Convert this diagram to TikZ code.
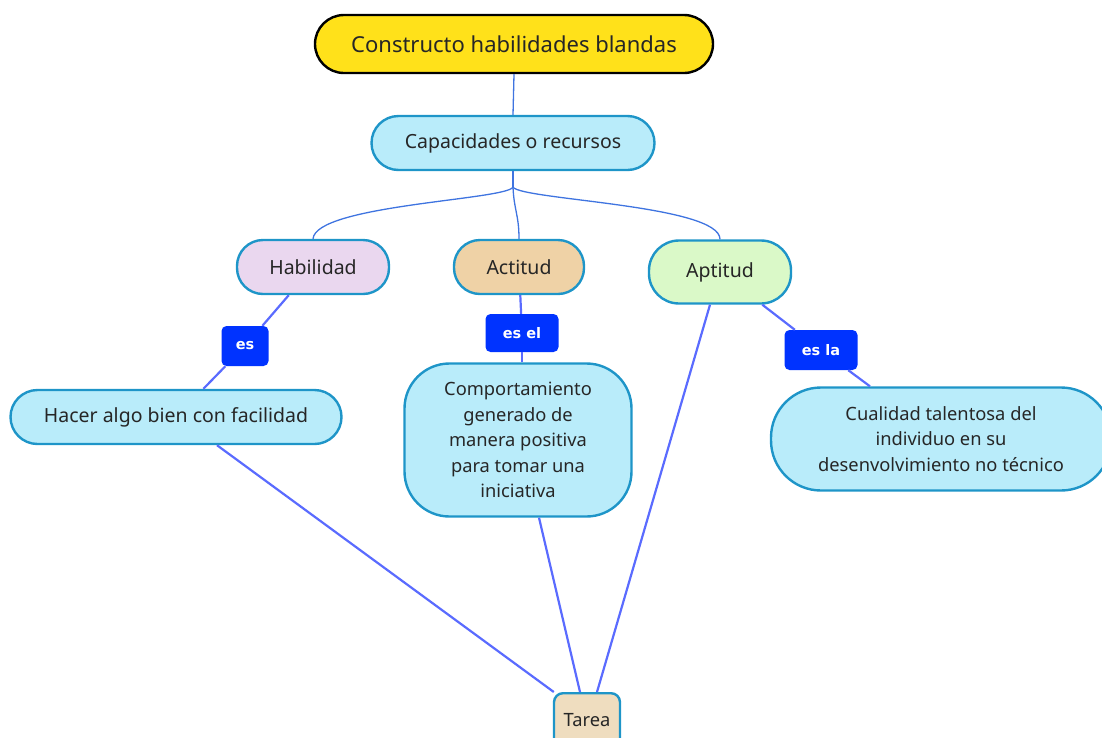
\documentclass[tikz,border=0pt]{standalone}
\usepackage{fontspec}
\setmainfont{Noto Sans}
\newfontfamily\lblfont{DejaVu Sans}
\usetikzlibrary{calc}
\definecolor{bordc}{HTML}{1E95C8}
\definecolor{cyanf}{HTML}{B9ECFA}
\definecolor{yelf}{HTML}{FFE11A}
\definecolor{habf}{HTML}{EAD7EF}
\definecolor{actf}{HTML}{EFD2A6}
\definecolor{aptf}{HTML}{DAF9C8}
\definecolor{tarf}{HTML}{EFDDBF}
\definecolor{lblf}{HTML}{0033FF}
\definecolor{linec}{HTML}{5A6BFF}
\definecolor{treec}{HTML}{3F74E0}
\definecolor{txtc}{HTML}{262626}
\tikzset{
  concept/.style={draw=bordc, line width=2.4pt, fill=cyanf, text=txtc, align=center, inner sep=0pt, font=\fontsize{19.5}{25}\selectfont},
  multi/.style={font=\fontsize{18.3}{25.5}\selectfont},
  lbl/.style={fill=lblf, text=white, rounded corners=5pt, inner sep=0pt, font=\lblfont\bfseries\fontsize{14.5}{18}\selectfont},
  conn/.style={draw=linec, line width=2.2pt},
  tree/.style={draw=treec, line width=1.3pt},
}
\begin{document}
\begin{tikzpicture}[x=1pt,y=-1pt]
\useasboundingbox (0,0) rectangle (1102,737);
\node[concept, draw=black, fill=yelf, minimum width=398pt, minimum height=58pt, rounded corners=29pt, font=\fontsize{22}{26}\selectfont] (top) at (514,44) {Constructo habilidades blandas};
\node[concept, minimum width=283pt, minimum height=54pt, rounded corners=27pt] (cap) at (513,143) {Capacidades o recursos};
\node[concept, fill=habf, minimum width=152pt, minimum height=54pt, rounded corners=26pt] (hab) at (313,267) {Habilidad};
\node[concept, fill=actf, minimum width=130pt, minimum height=54pt, rounded corners=26pt] (act) at (519,267) {Actitud};
\node[concept, fill=aptf, minimum width=142pt, minimum height=63pt, rounded corners=30pt] (apt) at (720,272) {Aptitud};
\node[lbl, minimum width=47pt, minimum height=40pt] (es) at (245,346) {es};
\node[lbl, minimum width=73pt, minimum height=38pt] (esel) at (522,333) {es el};
\node[lbl, minimum width=73pt, minimum height=40pt] (esla) at (821,350) {es la};
\node[concept, minimum width=331pt, minimum height=54pt, rounded corners=27pt] (hacer) at (176,417) {Hacer algo bien con facilidad};
\node[concept, multi, minimum width=227pt, minimum height=153pt, rounded corners=45pt] (comp) at (518,440) {Comportamiento\\generado de\\manera positiva\\para tomar una\\iniciativa};
\node[concept, multi, minimum width=340pt, minimum height=103pt, rounded corners=50pt] (cual) at (941,439) {Cualidad talentosa del\\individuo en su\\desenvolvimiento no técnico};
\node[concept, fill=tarf, minimum width=66pt, minimum height=54pt, rounded corners=9pt, anchor=north, font=\fontsize{18.3}{22}\selectfont] (tarea) at (587,692) {\raisebox{-7pt}{Tarea}};
% tree connectors
\draw[tree] (top.south) -- (cap.north);
\draw[tree] (cap.south) -- ++(0,16) coordinate (fork);
\draw[tree] (fork) .. controls (505,200) and (316,205) .. (hab.north);
\draw[tree] (fork) .. controls (514,210) and (519,215) .. (act.north);
\draw[tree] (fork) .. controls (523,200) and (720,205) .. (apt.north);
% links
\draw[conn] (hab) -- (es);
\draw[conn] (es) -- (hacer);
\draw[conn] (act) -- (esel);
\draw[conn] (esel) -- (comp.north -| esel);
\draw[conn] (apt) -- (esla);
\draw[conn] (esla) -- (cual);
\draw[conn] ($(hacer.south)+(41,0)$) -- ($(tarea.north west)+(1,0)$);
\draw[conn] ($(comp.south)+(21,0)$) -- ($(tarea.north)+(-7,0)$);
\draw[conn] ($(apt.south)+(-10,0)$) -- ($(tarea.north)+(10,0)$);
\end{tikzpicture}
\end{document}
